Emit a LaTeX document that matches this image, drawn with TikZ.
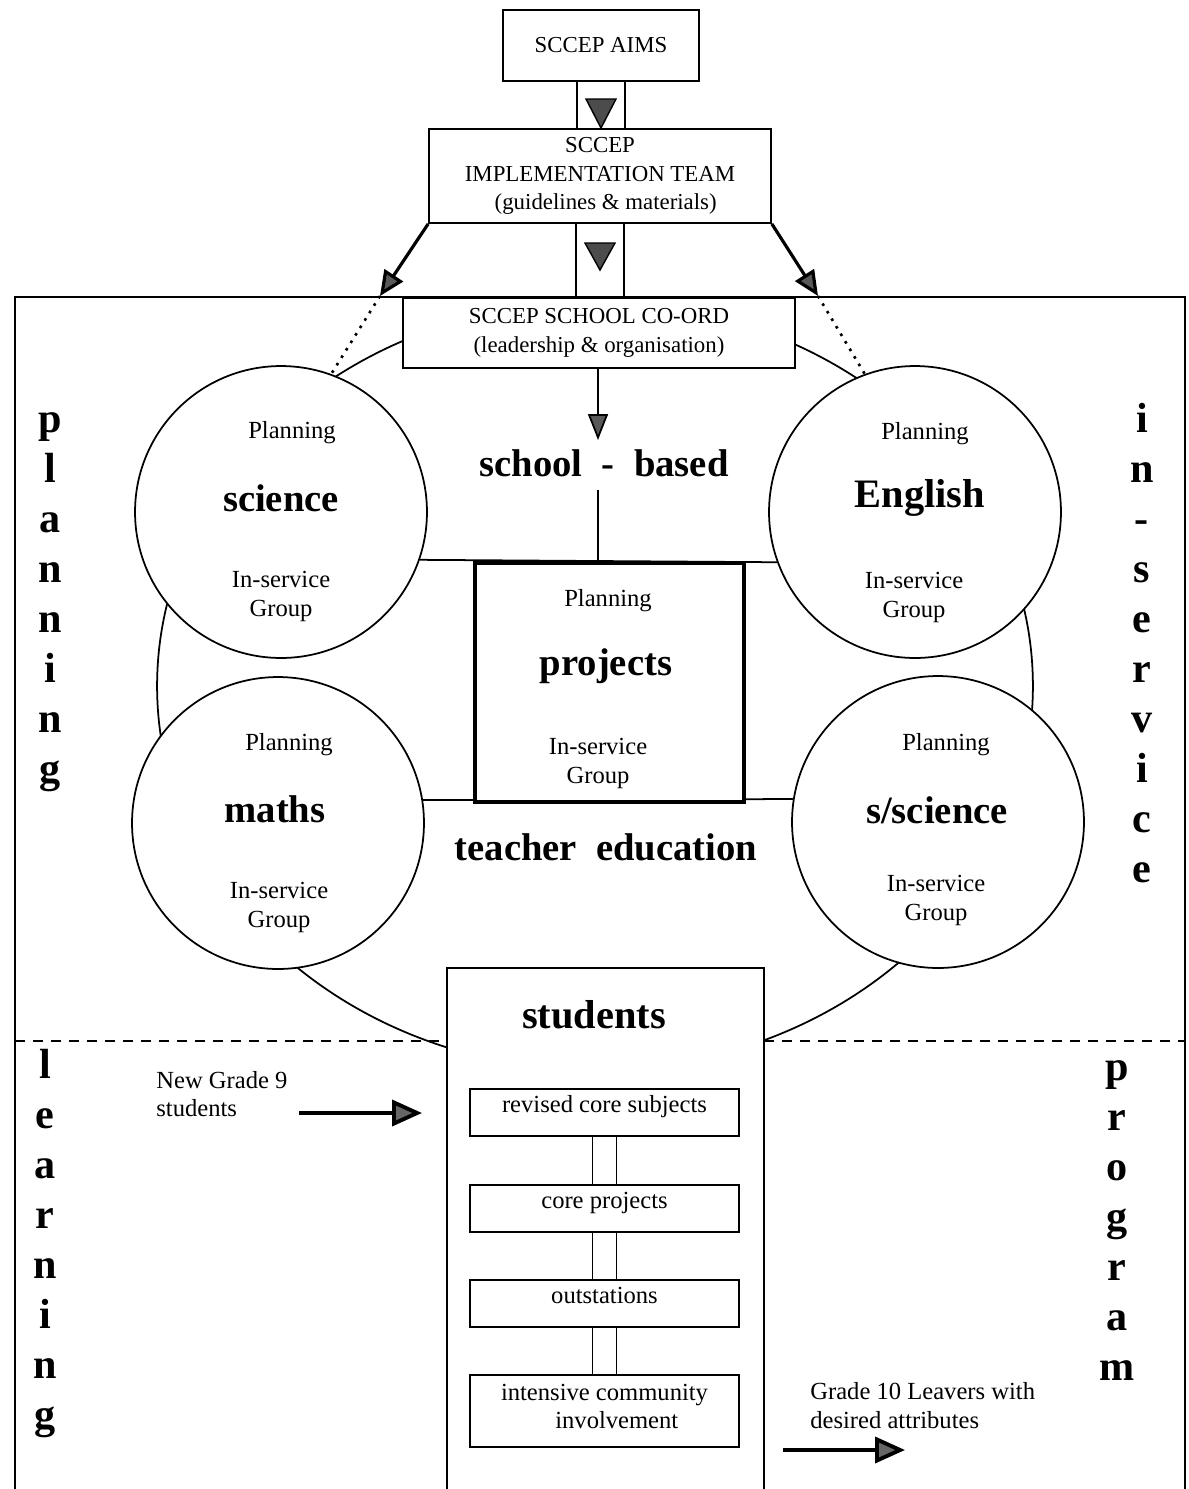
\documentclass[tikz,border=0pt]{standalone}
\usepackage{fontspec}
\setmainfont{Liberation Serif}
\usetikzlibrary{arrows.meta}
\begin{document}
\tikzset{
  lw/.style={line width=1pt},
  boxst/.style={draw, line width=1pt, fill=white, inner sep=0pt, align=center,
    font=\fontsize{13}{16.4}\selectfont},
  circst/.style={draw, circle, line width=1pt, fill=white, minimum size=5.84cm, inner sep=0pt},
  smalltxt/.style={font=\fontsize{14}{16.4}\selectfont, inner sep=0pt, align=center},
  lefttxt/.style={font=\fontsize{14}{16.4}\selectfont, inner sep=0pt, align=left, anchor=west},
  bigw/.style={font=\fontsize{22}{26}\selectfont\bfseries, inner sep=0pt},
  vlet/.style={font=\fontsize{24}{28}\selectfont\bfseries, inner sep=0pt, anchor=base},
  tri/.style={draw=black, line width=0.8pt, fill=black!70},
  darrow/.style={line width=1.8pt, -{Triangle[length=0.5cm,width=0.44cm,fill=black!65]}},
  garrow/.style={line width=2.2pt, -{Triangle[length=0.6cm,width=0.52cm,fill=black!60]}},
  sarrow/.style={line width=1pt, -{Triangle[length=0.52cm,width=0.4cm,fill=black!65]}},
  dotline/.style={line width=1.5pt, dash pattern=on 1.5pt off 3.5pt},
  ibox/.style={draw, line width=1pt, fill=white, inner sep=0pt, align=center,
    minimum width=5.38cm, font=\fontsize{14}{16.4}\selectfont},
  upbox/.style={text height=10pt, text depth=10.5pt},
}
\begin{tikzpicture}[x=0.02cm,y=-0.02cm]
\useasboundingbox (0,0) rectangle (1188,1489);

% outer frame
\draw[lw] (15,1489) -- (15,297) -- (1185,297) -- (1185,1489);

% big ellipse
\draw[lw] (595,686) ellipse [x radius=8.76cm, y radius=7.68cm];

% circles
\node[circst] (sci) at (281,512) {};
\node[circst] (eng) at (915,512) {};
\node[circst] (mat) at (278,823) {};
\node[circst] (ssc) at (938,822) {};

% horizontal lines
\draw[lw] (sci.-19.6) -- (eng.-160.4);
\draw[lw] (mat.9) -- (ssc.171);

% projects box
\node[draw, line width=2pt, fill=white, minimum width=5.38cm, minimum height=4.78cm] (proj) at (609.5,682.5) {};
\node[smalltxt] (projpl) at (608,601) {Planning};
\node[bigw] (projw) at (606,666) {projects};
\node[smalltxt] (projis) at (598,763.5) {In-service\\Group};

% students box
\node[fill=white, minimum width=6.34cm, minimum height=10.42cm, inner sep=0pt] (studbox) at (605.5,1228.5) {};
\draw[lw] (studbox.south west) -- (studbox.north west) -- (studbox.north east) -- (studbox.south east);
\node[bigw, font=\fontsize{23}{26}\selectfont\bfseries] (stud) at (594,1015) {students};

% dashed line
\coordinate (dl) at (15,1041);
\coordinate (dr) at (1185,1041);
\draw[lw, dash pattern=on 0.2cm off 0.16cm] (dl) -- (dl -| studbox.west);
\draw[lw, dash pattern=on 0.2cm off 0.16cm] (studbox.east |- dr) -- (dr);

% inner boxes
\node[ibox, upbox, minimum height=0.94cm] (b1) at (604.5,1112.5) {revised core subjects};
\node[ibox, upbox, minimum height=0.94cm] (b2) at (604.5,1208.5) {core projects};
\node[ibox, upbox, minimum height=0.94cm] (b3) at (604.5,1303.5) {outstations};
\node[ibox, minimum height=1.44cm] (b4) at (604.5,1411) {intensive community\\\quad involvement\\[-11pt]};
\foreach \a/\b in {b1/b2,b2/b3,b3/b4}{
  \draw[lw] ([xshift=-0.24cm]\a.south) -- ([xshift=-0.24cm]\b.north);
  \draw[lw] ([xshift=0.24cm]\a.south) -- ([xshift=0.24cm]\b.north);
}

% top boxes
\node[boxst, minimum width=3.92cm, minimum height=1.42cm] (aims) at (601,45.5) {SCCEP AIMS};
\node[boxst, minimum width=6.84cm, minimum height=1.88cm] (impl) at (600,176)
  {SCCEP\\IMPLEMENTATION TEAM\\\ \ (guidelines \& materials)};
\node[boxst, minimum width=7.84cm, minimum height=1.4cm] (coord) at (599,333)
  {SCCEP SCHOOL CO-ORD\\(leadership \& organisation)};

% double-line connectors
\draw[lw] ([xshift=-0.48cm]aims.south) -- ([xshift=-0.48cm]aims.south |- impl.north);
\draw[lw] ([xshift=0.48cm]aims.south) -- ([xshift=0.48cm]aims.south |- impl.north);
\draw[lw] ([xshift=-0.48cm]impl.south) -- ([xshift=-0.48cm]impl.south |- coord.north);
\draw[lw] ([xshift=0.48cm]impl.south) -- ([xshift=0.48cm]impl.south |- coord.north);
\filldraw[tri] (586,99) -- (616,99) -- (601,128) -- cycle;
\filldraw[tri] (585,243) -- (615,243) -- (600,270) -- cycle;

% diagonal arrows and dotted continuations
\coordinate (tipL) at (380,296);
\coordinate (tipR) at (818,296);
\draw[darrow] (impl.south west) -- (tipL);
\draw[darrow] (impl.south east) -- (tipR);
\draw[dotline] (tipL) -- (sci.70);
\draw[dotline] (tipR) -- (eng.110);

% school-based
\node[bigw] (sb) at (604,463) {school\ \ -\ \ based};
\coordinate (sbtop) at (598,440);
\draw[sarrow] (coord.south -| sbtop) -- (sbtop);
\coordinate (vl1) at (598,490);
\coordinate (vl2) at (598,561);
\draw[lw] (vl1) -- (vl2);

\node[bigw] (te) at (606,847) {teacher\ \ education};

% circle texts
\node[smalltxt] (scipl) at (292,433) {Planning};
\node[bigw] (sciw) at (281,498) {science};
\node[smalltxt] (sciis) at (281,596.5) {In-service\\Group};

\node[smalltxt] (engpl) at (925,434) {Planning};
\node[bigw, font=\fontsize{23}{26}\selectfont\bfseries] (engw) at (920,498) {English};
\node[smalltxt] (engis) at (914,597.5) {In-service\\Group};

\node[smalltxt] (matpl) at (289,745) {Planning};
\node[bigw] (matw) at (275,809) {maths};
\node[smalltxt] (matis) at (279,907.5) {In-service\\Group};

\node[smalltxt] (sscpl) at (946,745) {Planning};
\node[bigw] (sscw) at (937,810) {s/science};
\node[smalltxt] (sscis) at (936,900.5) {In-service\\Group};

% side arrows
\node[lefttxt] (ng) at (156,1094) {New Grade 9\\students};
\coordinate (ngA) at (299,1113);
\coordinate (ngB) at (422,1113);
\draw[garrow] (ngA) -- (ngB);

\node[lefttxt] (g10) at (810,1405.5) {Grade 10 Leavers with\\desired attributes};
\coordinate (gA) at (783,1450);
\coordinate (gB) at (905,1450);
\draw[garrow] (gA) -- (gB);

% vertical words
\foreach \ch [count=\i from 0] in {p,l,a,n,n,i,n,g}
  \node[vlet] (pl\i) at (50,432+50*\i) {\ch};
\foreach \ch [count=\i from 0] in {i,n,-,s,e,r,v,i,c,e}
  \node[vlet] (is\i) at (1142,432+50*\i) {\ch};
\foreach \ch [count=\i from 0] in {l,e,a,r,n,i,n,g}
  \node[vlet] (le\i) at (45,1078+50*\i) {\ch};
\foreach \ch [count=\i from 0] in {p,r,o,g,r,a,m}
  \node[vlet] (pr\i) at (1117,1080+50*\i) {\ch};
\end{tikzpicture}
\end{document}
